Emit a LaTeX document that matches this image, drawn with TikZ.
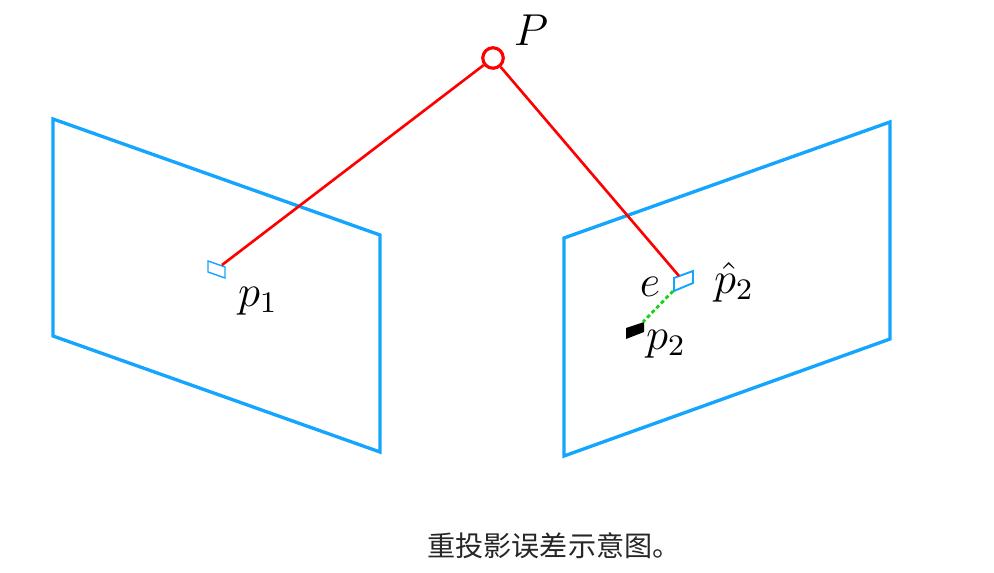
\documentclass[tikz,border=0pt]{standalone}
\usepackage{fontspec}
\newfontfamily\cjk{Noto Sans CJK SC}
\usetikzlibrary{calc, positioning}
\definecolor{planeblue}{RGB}{20,165,255}
\definecolor{errgreen}{RGB}{20,210,20}
\tikzset{
  plane/.style={draw=planeblue, line width=0.95pt},
  pixel/.style={draw=planeblue, line width=0.4pt},
  ray/.style={draw=red, line width=0.75pt},
  lbl/.style={inner sep=0pt, font=\large, scale=1.06},
  pointP/.style={circle, draw=red, line width=0.9pt, fill=white, minimum size=0.205cm, inner sep=0pt},
}
\begin{document}
\begin{tikzpicture}
\useasboundingbox (0,0) rectangle (9.94,5.72);
% Planos de imagen
\draw[plane] (0.53,4.53) -- (3.80,3.37) -- (3.80,1.20) -- (0.53,2.36) -- cycle;
\draw[plane] (5.64,3.34) -- (8.90,4.50) -- (8.90,2.33) -- (5.64,1.16) -- cycle;
% Proyecciones
\draw[pixel] (2.08,3.11) -- (2.25,3.05) -- (2.25,2.94) -- (2.08,3.00) -- cycle;
\draw[pixel, line width=0.55pt] (6.74,2.94) -- (6.93,3.01) -- (6.93,2.89) -- (6.74,2.81) -- cycle;
\fill (6.26,2.44) -- (6.44,2.50) -- (6.44,2.40) -- (6.26,2.33) -- cycle;
% Puntos de union
\coordinate (q1) at (2.22,3.07);
\coordinate (qhat) at (6.79,2.96);
\coordinate (qhatb) at (6.73,2.81);
\coordinate (q2) at (6.43,2.50);
\node[pointP] (P) at (4.93,5.14) {};
\draw[ray] (P) -- (q1);
\draw[ray] (P) -- (qhat);
\draw[errgreen, line width=0.8pt, dash pattern=on 1.1pt off 0.8pt] (qhatb) -- (q2);
% Etiquetas
\node[lbl] (labelP) at (5.31,5.42) {$P$};
\node[lbl] (labelp1) at (2.58,2.71) {$p_1$};
\node[lbl] (labele) at (6.50,2.85) {$e$};
\node[lbl] (labelphat) at (7.34,2.90) {$\hat{p}_2$};
\node[lbl] (labelp2) at (6.66,2.28) {$p_2$};
\node[inner sep=0pt, font=\cjk\fontsize{8pt}{9.5pt}\selectfont, text=black!85] (caption) at (5.54,0.26) {重投影误差示意图。};
\end{tikzpicture}
\end{document}
